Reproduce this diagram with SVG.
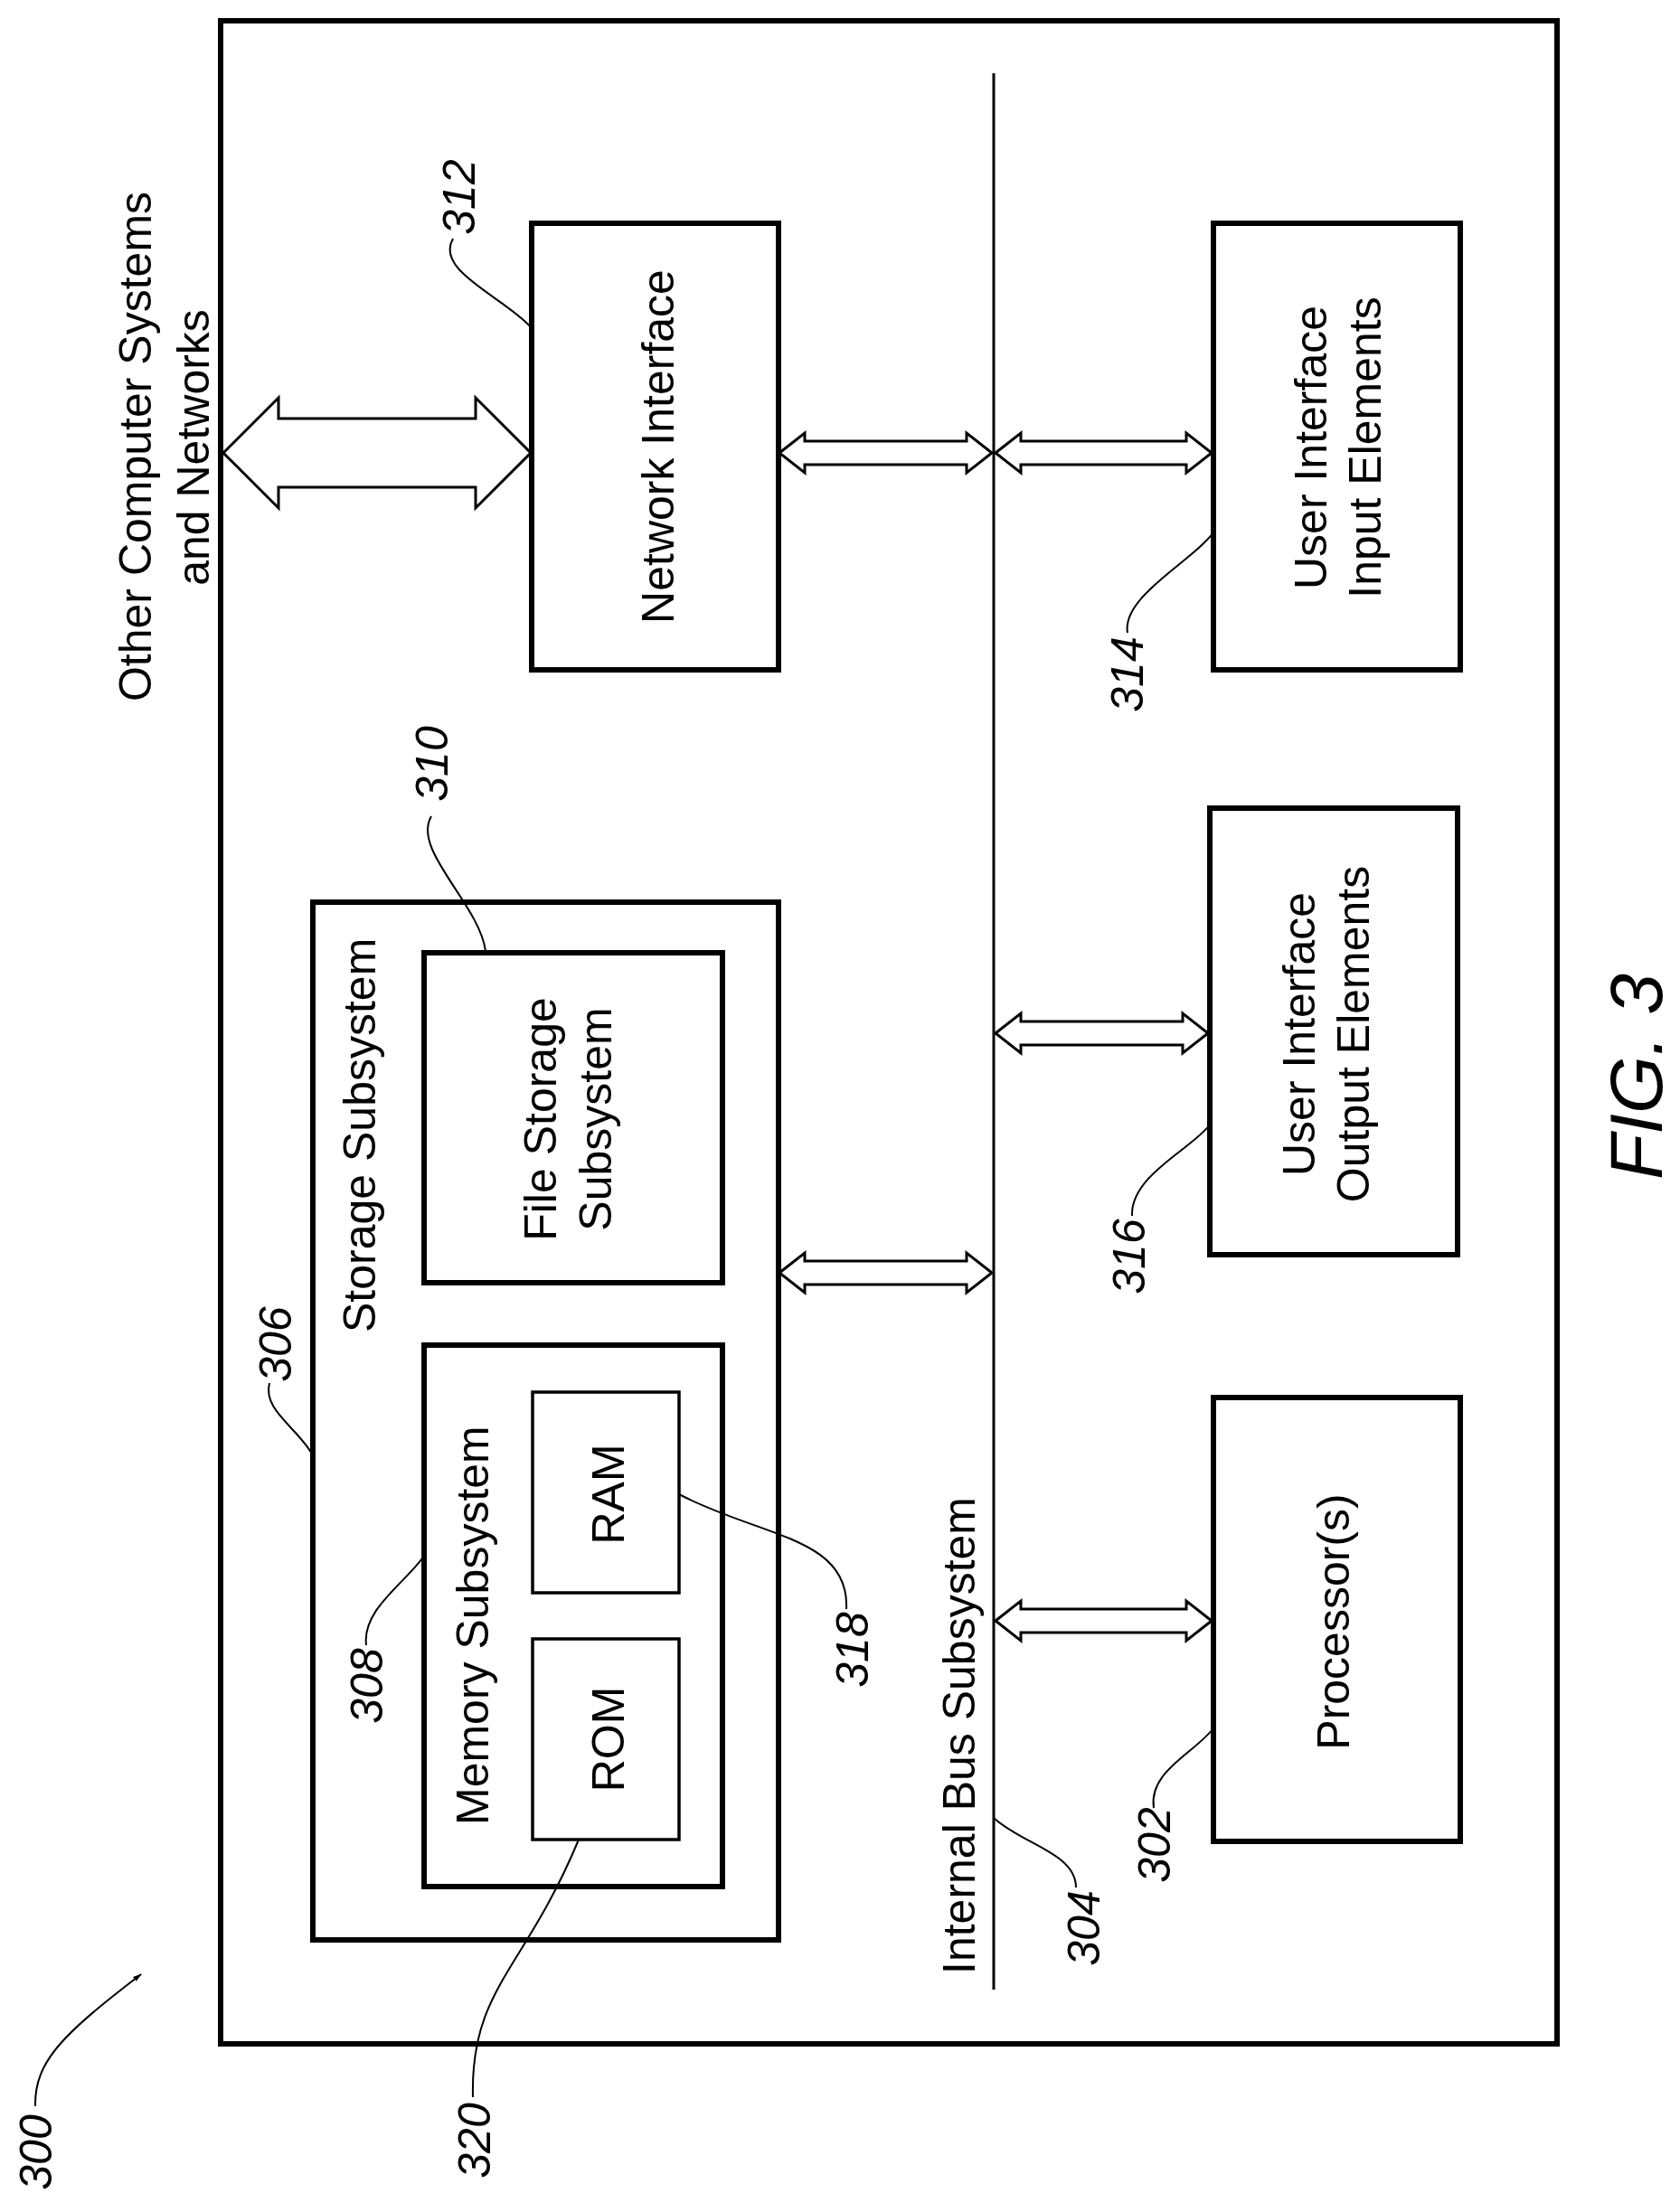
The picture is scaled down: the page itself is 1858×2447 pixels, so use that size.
<svg xmlns="http://www.w3.org/2000/svg" width="1858" height="2447" viewBox="0 0 1858 2447">
<style>
.b{fill:none;stroke:#000;stroke-width:6}
.t{fill:none;stroke:#000;stroke-width:3.5}
.l{font-family:"Liberation Sans",Arial,sans-serif;font-size:50px;fill:#000;text-anchor:middle}
.n{font-family:"Liberation Sans",Arial,sans-serif;font-size:50px;font-style:italic;fill:#000;text-anchor:middle}
.ld{fill:none;stroke:#000;stroke-width:2}
.ar{fill:#fff;stroke:#000;stroke-width:3;stroke-linejoin:miter}
</style>
<defs>
<marker id="ah" markerWidth="10" markerHeight="10" refX="9" refY="5" orient="auto" markerUnits="userSpaceOnUse" viewBox="0 0 10 10">
<path d="M0,2 L10,5 L0,8 z" fill="#000"/>
</marker>
</defs>
<rect width="1858" height="2447" fill="#fff"/>
<g id="frame"><rect class="b" x="244" y="23" width="1478" height="2238"/></g>
<g id="bus"><line x1="1099" y1="81" x2="1099" y2="2201" stroke="#000" stroke-width="3"/>
<text class="l" transform="translate(1078,1920) rotate(-90)">Internal Bus Subsystem</text></g>
<g id="ext"><text class="l" transform="translate(167,494) rotate(-90)">Other Computer Systems</text>
<text class="l" transform="translate(231,495) rotate(-90)">and Networks</text></g>
<g id="ni"><rect class="b" x="588" y="247" width="273" height="494"/>
<text class="l" transform="translate(745,494) rotate(-90)">Network Interface</text></g>
<g id="uii"><rect class="b" x="1342" y="247" width="273" height="494"/>
<text class="l" transform="translate(1467,495) rotate(-90)">User Interface</text>
<text class="l" transform="translate(1527,495) rotate(-90)">Input Elements</text></g>
<g id="uio"><rect class="b" x="1338" y="894" width="274" height="494"/>
<text class="l" transform="translate(1454,1144) rotate(-90)">User Interface</text>
<text class="l" transform="translate(1514,1144) rotate(-90)">Output Elements</text></g>
<g id="proc"><rect class="b" x="1342" y="1546" width="273" height="491"/>
<text class="l" transform="translate(1492,1794) rotate(-90)">Processor(s)</text></g>
<g id="storage"><rect class="b" x="346" y="998" width="515" height="1148"/>
<text class="l" style="text-anchor:start" transform="translate(415,1474) rotate(-90)">Storage Subsystem</text></g>
<g id="file"><rect class="b" x="469" y="1054" width="330" height="365"/>
<text class="l" transform="translate(615,1238) rotate(-90)">File Storage</text>
<text class="l" transform="translate(676,1238) rotate(-90)">Subsystem</text></g>
<g id="mem"><rect class="b" x="469" y="1488" width="330" height="599"/>
<text class="l" style="text-anchor:start" transform="translate(540,2019) rotate(-90)">Memory Subsystem</text></g>
<g id="ram"><rect class="t" x="589" y="1540" width="162" height="222"/>
<text class="l" transform="translate(690,1653) rotate(-90)">RAM</text></g>
<g id="rom"><rect class="t" x="589" y="1813" width="162" height="222"/>
<text class="l" transform="translate(690,1924) rotate(-90)">ROM</text></g>
<g id="connectors">
<polygon class="ar" points="247,501 308,440 308,463 526,463 526,440 587,501 526,562 526,539 308,539 308,562"/>
<polygon class="ar" points="862,501 890,479 890,488 1069,488 1069,479 1097,501 1069,523 1069,514 890,514 890,523"/>
<polygon class="ar" points="1101,501 1129,479 1129,488 1312,488 1312,479 1340,501 1312,523 1312,514 1129,514 1129,523"/>
<polygon class="ar" points="1101,1143 1129,1121 1129,1130 1308,1130 1308,1121 1336,1143 1308,1165 1308,1156 1129,1156 1129,1165"/>
<polygon class="ar" points="862,1408 890,1386 890,1395 1069,1395 1069,1386 1097,1408 1069,1430 1069,1421 890,1421 890,1430"/>
<polygon class="ar" points="1101,1793 1129,1771 1129,1780 1312,1780 1312,1771 1340,1793 1312,1815 1312,1806 1129,1806 1129,1815"/>
<path class="ld" d="M501,264 C480,300 560,330 588,363"/>
<path class="ld" d="M477,903 C455,940 530,1000 537,1052"/>
<path class="ld" d="M1247,700 C1240,660 1320,620 1342,589"/>
<path class="ld" d="M1252,1345 C1250,1300 1320,1270 1338,1244"/>
<path class="ld" d="M298,1530 C290,1560 330,1580 346,1610"/>
<path class="ld" d="M405,1820 C400,1780 450,1750 469,1721"/>
<path class="ld" d="M936,1780 C940,1700 840,1700 751,1653"/>
<path class="ld" d="M1190,2088 C1190,2050 1130,2040 1099,2011"/>
<path class="ld" d="M1276,2000 C1270,1960 1320,1940 1342,1912"/>
<path class="ld" d="M523,2320 C520,2200 580,2180 640,2035"/>
<path class="ld" marker-end="url(#ah)" d="M39,2330 C38,2280 70,2250 156,2184"/>
</g>
<g id="refs">
<text class="n" transform="translate(525,218) rotate(-90)">312</text>
<text class="n" transform="translate(495,845) rotate(-90)">310</text>
<text class="n" transform="translate(1264,746) rotate(-90)">314</text>
<text class="n" transform="translate(1266,1390) rotate(-90)">316</text>
<text class="n" transform="translate(322,1487) rotate(-90)">306</text>
<text class="n" transform="translate(423,1865) rotate(-90)">308</text>
<text class="n" transform="translate(960,1825) rotate(-90)">318</text>
<text class="n" transform="translate(1216,2133) rotate(-90)">304</text>
<text class="n" transform="translate(1294,2041) rotate(-90)">302</text>
<text class="n" transform="translate(542,2368) rotate(-90)">320</text>
<text class="n" transform="translate(57,2381) rotate(-90)">300</text>
<text class="n" style="font-size:82px" transform="translate(1838,1191) rotate(-90)">FIG. 3</text>
</g>
</svg>
